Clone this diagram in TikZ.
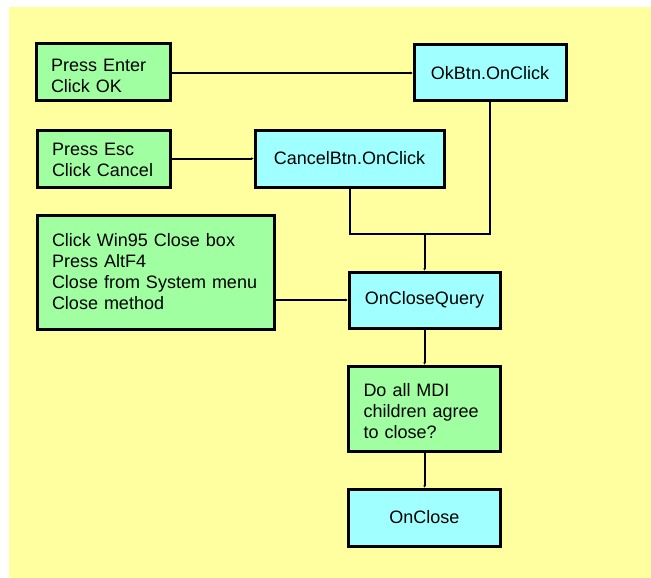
\documentclass[tikz,border=0pt]{standalone}
\usepackage{fontspec}
\setmainfont{Liberation Sans}
\usetikzlibrary{arrows.meta}
\definecolor{bgyellow}{RGB}{255,255,160}
\definecolor{boxgreen}{RGB}{160,255,160}
\definecolor{boxcyan}{RGB}{160,255,255}
\newcommand{\lift}[1]{\rule{0pt}{#1}}
\begin{document}
\begin{tikzpicture}[x=1pt,y=1pt,
  box/.style={draw=black, line width=3pt, inner ysep=0pt, font=\fontsize{18}{21}\selectfont},
  greenbox/.style={box, fill=boxgreen, align=left, inner xsep=15pt},
  cyanbox/.style={box, fill=boxcyan, align=center, inner xsep=0pt},
  conn/.style={line width=2pt, draw=black},
  arr/.style={conn, -{Stealth[length=2pt,width=2.5pt]}}
]
\useasboundingbox (0,0) rectangle (651,-578);
\fill[bgyellow] (9,-7) rectangle (651,-578);

\node[greenbox, text width=104pt, minimum width=134pt, minimum height=57pt] (g1) at (103,-72.5) {\lift{20pt}Press Enter\\Click OK};
\node[cyanbox, minimum width=152pt, minimum height=56pt] (ok) at (490,-73) {OkBtn.OnClick};
\node[greenbox, text width=103pt, minimum width=133pt, minimum height=57pt] (g2) at (103.5,-158.5) {\lift{16pt}Press Esc\\Click Cancel};
\node[cyanbox, minimum width=189pt, minimum height=57pt] (cancel) at (349.5,-158.5) {CancelBtn.OnClick};
\node[greenbox, text width=207pt, minimum width=237pt, minimum height=114pt] (g3) at (155.5,-272) {Click Win95 Close box\\Press AltF4\\Close from System menu\\Close method};
\node[cyanbox, minimum width=151pt, minimum height=56pt] (q) at (424.5,-300) {OnCloseQuery};
\node[greenbox, text width=122pt, minimum width=152pt, minimum height=85pt] (g4) at (424.5,-408.5) {\lift{19pt}Do all MDI\\children agree\\to close?};
\node[cyanbox, minimum width=152pt, minimum height=57pt] (close) at (424.5,-517.5) {OnClose};

\coordinate (jl) at (cancel.south |- 0,-234);
\coordinate (jr) at (ok.south |- 0,-234);
\coordinate (jm) at (q.north |- 0,-234);

\draw[arr] (g1.east |- ok.west) -- (ok.west);
\draw[arr] (g2.east) -- (cancel.west);
\draw[conn] (cancel.south) -- (jl) -- (jr) -- (ok.south);
\draw[arr] (jm) -- (q.north);
\draw[arr] (g3.east |- q.west) -- (q.west);
\draw[arr] (q.south) -- (g4.north);
\draw[arr] (g4.south) -- (close.north);
\end{tikzpicture}
\end{document}
